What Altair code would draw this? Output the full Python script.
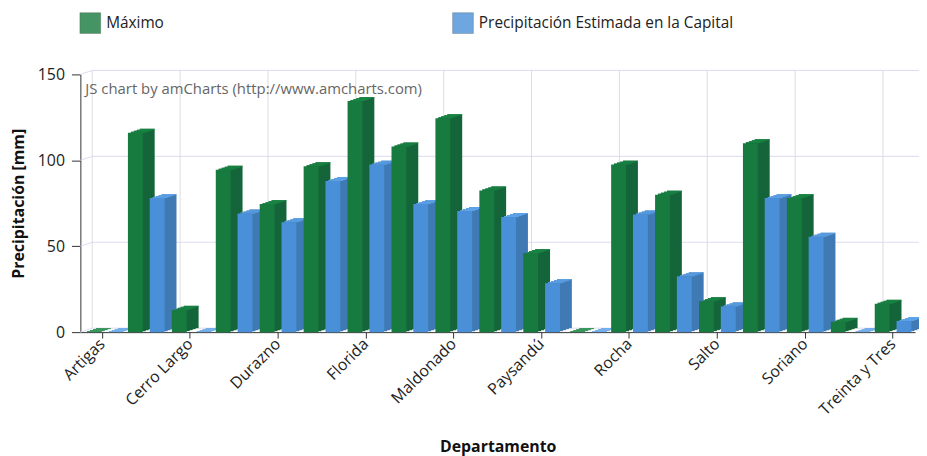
import altair as alt
import pandas as pd

departamentos = ["Artigas", "Canelones", "Cerro Largo", "Colonia", "Durazno", "Flores",
                 "Florida", "Lavalleja", "Maldonado", "Montevideo", "Paysandú", "Rivera",
                 "Rocha", "Río Negro", "Salto", "San José", "Soriano", "Tacuarembó",
                 "Treinta y Tres"]
maximo = [0, 116, 13, 94.5, 74.5, 96.5, 134.5, 108, 124.5, 82.5, 46, 0, 97.5, 80, 18, 110, 78, 6, 16.5]
capital = [0, 78, 0, 69, 64, 88, 97.5, 74.5, 70.5, 67, 28.5, 0, 68.5, 32.5, 15, 78, 55.5, 0, 6.5]
series = ["Máximo", "Precipitación Estimada en la Capital"]
y_ticks = [0, 50, 100, 150]

FONT = "Open Sans"
W, H = 842, 260
front_colors = ["#177a3e", "#4a90d8"]
side_colors = ["#14653a", "#3f7ab5"]
top_colors = ["#1a8745", "#5ea2e8"]
centre_shift = [-11, 11]

xscale = alt.Scale(paddingInner=0, paddingOuter=0)
yscale = alt.Scale(domain=[0, 150], nice=False)

X = alt.X("Departamento:N", sort=departamentos, scale=xscale, title="Departamento",
          axis=alt.Axis(values=departamentos[::2], labelAngle=-45, labelFontSize=16,
                        labelFont=FONT, labelColor="#222", tickSize=6, tickColor="#333",
                        domainColor="#333", labelPadding=3, titleFont=FONT,
                        titleFontSize=16, titleFontWeight="bold", titleColor="#111",
                        titleY=115, titleBaseline="middle"))
Y = alt.Y("Valor:Q", scale=yscale, title="Precipitación [mm]",
          axis=alt.Axis(values=y_ticks, grid=False, tickSize=9, tickColor="#333",
                        domainColor="#333", labelFontSize=16, labelFont=FONT,
                        labelColor="#222", labelPadding=7, titleFont=FONT,
                        titleFontSize=16, titleFontWeight="bold", titleColor="#111",
                        titlePadding=11))
Xp = alt.X("Departamento:N", sort=departamentos, scale=xscale)
Yp = alt.Y("Valor:Q", scale=yscale)

# background grid (3D back plane)
grid_h = alt.Chart(pd.DataFrame({"Valor": y_ticks})).mark_rule(
    color="#dcdcf0", strokeWidth=1, yOffset=-4
).encode(y=alt.Y("Valor:Q", scale=yscale), x=alt.value(12), x2=alt.value(W + 4))

grid_d = alt.Chart(pd.DataFrame({"Valor": y_ticks})).mark_rule(
    color="#dcdcf0", strokeWidth=1, y2Offset=-4
).encode(y=alt.Y("Valor:Q", scale=yscale), y2=alt.Y2("Valor:Q"),
         x=alt.value(0), x2=alt.value(12))

grid_v = alt.Chart(pd.DataFrame({"Departamento": departamentos[::2]})).mark_rule(
    color="#dcdce2", strokeWidth=1, xOffset=12, yOffset=-4, y2Offset=-4
).encode(x=alt.X("Departamento:N", sort=departamentos, scale=xscale, bandPosition=0),
         y=alt.datum(150, scale=yscale), y2=alt.datum(0))

layers = [grid_h, grid_d, grid_v]
frames = []
for values, name in zip([maximo, capital], series):
    frames.append(pd.DataFrame({"Departamento": departamentos, "Serie": name, "Valor": values}))

# extruded depth: shifted copies behind each front face (side), then top strips
for i, dfi in enumerate(frames):
    for k in [4, 3, 2, 1]:
        layers.append(
            alt.Chart(dfi).mark_bar(width=15, xOffset=centre_shift[i] + 3 * k,
                                    yOffset=-k, color=side_colors[i]).encode(
                x=Xp, y=Yp)
        )
    for k in [4, 3, 2, 1]:
        layers.append(
            alt.Chart(dfi).mark_bar(width=15, xOffset=centre_shift[i] + 3 * k,
                                    yOffset=-k, y2Offset=-k + 1, color=top_colors[i]).encode(
                x=Xp, y=Yp, y2=alt.Y2("Valor:Q"))
        )

color_enc = alt.Color("Serie:N", sort=series,
                      scale=alt.Scale(domain=series, range=front_colors),
                      legend=alt.Legend(title=None, orient="none", legendX=-1, legendY=-63,
                                        direction="horizontal", symbolType="square",
                                        symbolSize=441, symbolOpacity=0.8,
                                        symbolStrokeColor="rgba(0,0,0,0.25)",
                                        symbolStrokeWidth=1, labelFont=FONT,
                                        labelFontSize=15.5, labelColor="#222",
                                        labelOffset=5, labelLimit=0, columnPadding=288))
for i, dfi in enumerate(frames):
    layers.append(
        alt.Chart(dfi).mark_bar(width=15, xOffset=centre_shift[i]).encode(
            x=X, y=Y, color=color_enc)
    )

credit = alt.Chart(pd.DataFrame({"t": ["JS chart by amCharts (http://www.amcharts.com)"]})).mark_text(
    align="left", baseline="middle", font=FONT, fontSize=15, color="#666"
).encode(text="t:N", x=alt.value(5), y=alt.value(15))
layers.append(credit)

chart = alt.layer(*layers).properties(
    width=W, height=H,
    autosize=alt.AutoSizeParams(type="none"),
    padding={"left": 73, "top": 65, "right": 4, "bottom": 126},
    background="white",
).configure_view(stroke=None)

chart.save("out.html", embed_options={"renderer": "svg", "actions": False})
